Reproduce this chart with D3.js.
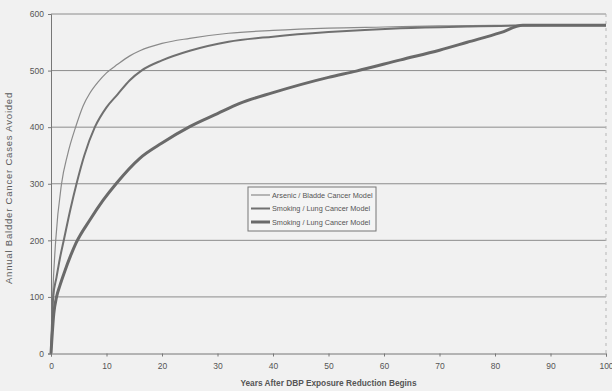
<!DOCTYPE html>
<html><head><meta charset="utf-8">
<script src="https://cdn.jsdelivr.net/npm/d3@7"></script>
<style>
html,body{margin:0;padding:0;background:#f1f1f1;}
svg{display:block;font-family:"Liberation Sans",Arial,sans-serif;}
</style></head>
<body><svg id="c" width="612" height="391"></svg>
<script>
const seriesNames = ["Arsenic / Bladde Cancer Model","Smoking / Lung Cancer Model","Smoking / Lung Cancer Model"];
const arsenicYears = [0,0.3,0.85,1.9,3,4.5,5.8,7,8.5,10,12,14.2,16,20,25,32,40,50,60,70,80,90,100];
const arsenicVals  = [0,100,200,300,352,402,438,460,480,496,511,526,535,548,557,566,571,575,577,579,580,580,580];
const smokingAYears = [0,0.4,1,1.6,2.3,3.5,4.6,6,7.9,10,12,14.2,16.3,20,25,32,40,50,63,75,90,100];
const smokingAVals  = [0,100,135,168,200,255,300,350,400,435,458,483,500,518,535,551,560,568,575,578,580,580];
const smokingBYears = [0,0.5,1,1.6,2.5,3.5,4.5,7,9.4,11.8,16,20,25,30,34,40,50,55,63,70,75,81,85,90,100];
const smokingBVals  = [0,70,100,120,146,172,195,236,271,301,345,372,401,424,442,461,488,499,519,536,550,567,580,580,580];
const xTicks = [0,10,20,30,40,50,60,70,80,90,100];
const yTicks = [0,100,200,300,400,500,600];

const series = [
  {name: seriesNames[0], years: arsenicYears, vals: arsenicVals, color:"#8a8a8a", w:1.2},
  {name: seriesNames[1], years: smokingAYears, vals: smokingAVals, color:"#707070", w:2},
  {name: seriesNames[2], years: smokingBYears, vals: smokingBVals, color:"#6a6a6a", w:3}
];

const svg = d3.select("#c");
const m = {l:51, r:6, t:14, b:37.5};
const W = 612, H = 391;
const x = d3.scaleLinear().domain([0,100]).range([m.l, W-m.r]);
const y = d3.scaleLinear().domain([0,600]).range([H-m.b, m.t]);

// gridlines
svg.append("g").selectAll("line").data(yTicks.filter(d=>d>0)).join("line")
  .attr("x1", x(0)).attr("x2", x(100)).attr("y1", d=>y(d)).attr("y2", d=>y(d))
  .attr("stroke","#8c8c8c").attr("stroke-width",1);
// right border faint
svg.append("line").attr("x1",x(100)).attr("x2",x(100)).attr("y1",y(600)).attr("y2",y(0))
  .attr("stroke","#b5b5b5").attr("stroke-dasharray","3,4");

// axes
const xAxis = d3.axisBottom(x).tickValues(xTicks).tickSize(3).tickFormat(d3.format("d"));
const gx = svg.append("g").attr("transform",`translate(0,${y(0)})`).call(xAxis);
gx.select(".domain").attr("stroke","#777");
gx.selectAll(".tick line").attr("stroke","#777");
gx.selectAll("text").attr("fill","#555").attr("font-size",8.5).attr("dy","1.15em");

const yAxis = d3.axisLeft(y).tickValues(yTicks).tickSize(3).tickFormat(d3.format("d"));
const gy = svg.append("g").attr("transform",`translate(${x(0)},0)`).call(yAxis);
gy.select(".domain").attr("stroke","#777");
gy.selectAll(".tick line").attr("stroke","#777");
gy.selectAll("text").attr("fill","#555").attr("font-size",8.5).attr("x",-7);

// lines
const line = d3.line().x(d=>x(d[0])).y(d=>y(d[1])).curve(d3.curveMonotoneX);
series.forEach(s=>{
  svg.append("path").datum(s.years.map((yr,i)=>[yr,s.vals[i]]))
    .attr("d",line).attr("fill","none").attr("stroke",s.color).attr("stroke-width",s.w)
    .attr("stroke-linejoin","round");
});

// titles
svg.append("text").attr("x",(x(0)+x(100))/2).attr("y",386).attr("text-anchor","middle")
  .attr("font-size",8.3).attr("font-weight","bold").attr("fill","#555")
  .text("Years After DBP Exposure Reduction Begins");
svg.append("text").attr("transform",`translate(12,188) rotate(-90)`)
  .attr("text-anchor","middle").attr("font-size",9.5).attr("letter-spacing",0.8).attr("fill","#5a5a5a")
  .text("Annual Baldder Cancer Cases Avoided");

// legend
const lg = svg.append("g").attr("transform","translate(248,187)");
lg.append("rect").attr("width",128).attr("height",44).attr("fill","#f4f4f4").attr("stroke","#777").attr("stroke-width",1);
series.forEach((s,i)=>{
  const yy = 8 + i*13.5;
  lg.append("line").attr("x1",3).attr("x2",22).attr("y1",yy).attr("y2",yy)
    .attr("stroke",s.color).attr("stroke-width",s.w);
  lg.append("text").attr("x",24).attr("y",yy).attr("dy","0.35em").attr("font-size",7.3)
    .attr("fill","#555").text(s.name);
});
</script></body></html>
